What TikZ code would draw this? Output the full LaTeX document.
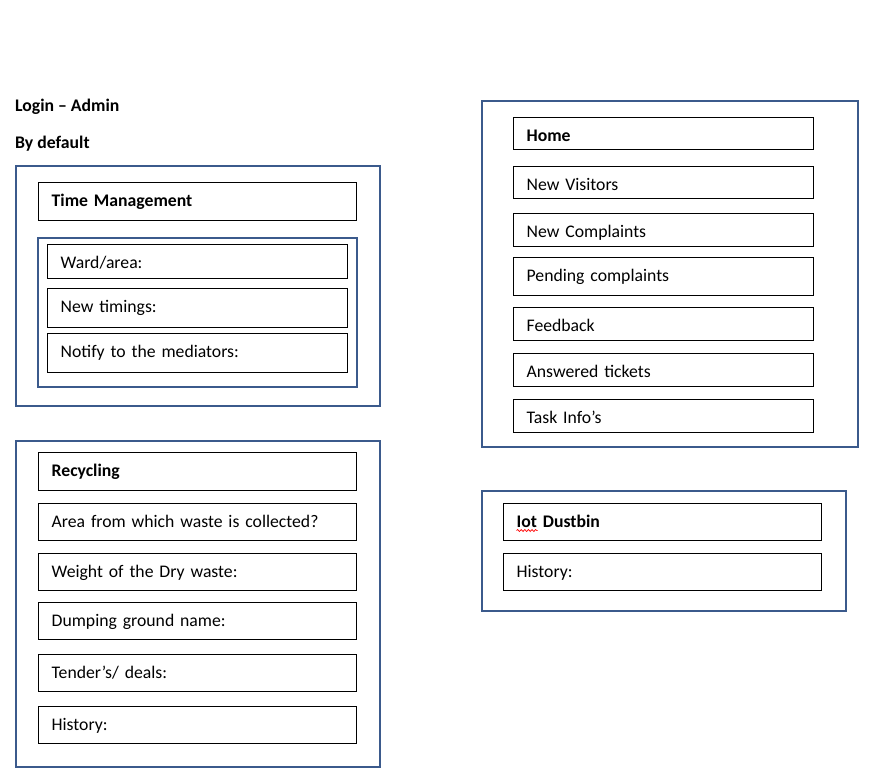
\documentclass[tikz,border=0pt]{standalone}
\usepackage{fontspec}
\setmainfont{Carlito}
\usetikzlibrary{decorations.pathmorphing}
\definecolor{frameblue}{HTML}{3B5A8C}
\tikzset{
  panel/.style={draw=frameblue, line width=2pt, inner sep=0pt, anchor=north west},
  field/.style={draw=black, line width=1.3pt, inner ysep=0pt, inner xsep=13pt, anchor=north west, align=left, font=\fontsize{17.7}{21}\selectfont},
  heading/.style={field, font=\fontsize{17.7}{21}\selectfont\bfseries},
  pagetitle/.style={anchor=base west, inner sep=0pt, font=\fontsize{17.7}{21}\selectfont\bfseries},
  spellmark/.style={draw=red, line width=0.7pt, decorate, decoration={snake, amplitude=1pt, segment length=3.6pt}}
}
\newcommand\fieldbox[7]{%
  \pgfmathsetmacro\fbw{#5-#3}%
  \pgfmathsetmacro\fbt{#5-#3-26}%
  \pgfmathsetmacro\fbd{#6-#4-24}%
  \node[#1, text width=\fbt pt, text height=24pt, text depth=\fbd pt, minimum width=\fbw pt] (#2) at (#3pt,-#4pt) {#7};}
\newcommand\panelbox[5]{%
  \pgfmathsetmacro\pbw{#4-#2}%
  \pgfmathsetmacro\pbh{#5-#3}%
  \node[panel, minimum width=\pbw pt, minimum height=\pbh pt] (#1) at (#2pt,-#3pt) {};}
\begin{document}
\begin{tikzpicture}
\useasboundingbox (0,0) rectangle (872pt,-778pt);
% titles
\node[pagetitle] (login) at (15pt,-111.5pt) {Login \textendash\ Admin};
\node[pagetitle] (default) at (15pt,-149pt) {By default};
% Time management
\panelbox{tmpanel}{15}{165}{379}{405}
\fieldbox{heading}{tm}{38}{182}{356}{220}{Time Management}
\panelbox{tminner}{37}{237}{356}{386}
\fieldbox{field}{ward}{47}{244}{347}{278}{Ward/area:}
\fieldbox{field}{timings}{47}{288}{347}{327}{New timings:}
\fieldbox{field}{notify}{47}{333}{347}{372}{Notify to the mediators:}
% Recycling
\panelbox{recpanel}{15}{440}{379}{766}
\fieldbox{heading}{rec}{38}{452}{356}{490}{Recycling}
\fieldbox{field}{area}{38}{503}{356}{540}{Area from which waste is collected?}
\fieldbox{field}{weight}{38}{553}{356}{590}{Weight of the Dry waste:}
\fieldbox{field}{dump}{38}{602}{356}{639}{Dumping ground name:}
\fieldbox{field}{tender}{38}{654}{356}{691}{Tender’s/ deals:}
\fieldbox{field}{rechist}{38}{706}{356}{743}{History:}
% Home
\panelbox{homepanel}{481}{100}{857}{446}
\fieldbox{heading}{home}{513}{117}{813}{149}{Home}
\fieldbox{field}{visitors}{513}{166}{813}{198}{New Visitors}
\fieldbox{field}{newcomp}{513}{213}{813}{246}{New Complaints}
\fieldbox{field}{pending}{513}{257}{813}{295}{Pending complaints}
\fieldbox{field}{feedback}{513}{307}{813}{340}{Feedback}
\fieldbox{field}{answered}{513}{353}{813}{386}{Answered tickets}
\fieldbox{field}{task}{513}{399}{813}{432}{Task Info’s}
% Iot dustbin
\panelbox{iotpanel}{481}{490}{845}{610}
\fieldbox{heading}{iot}{503}{503}{821}{540}{Iot Dustbin}
\fieldbox{field}{iothist}{503}{553}{821}{590}{History:}
\draw[spellmark] ([xshift=13.5pt,yshift=-27.5pt]iot.north west) -- ++(21pt,0);
\end{tikzpicture}
\end{document}
